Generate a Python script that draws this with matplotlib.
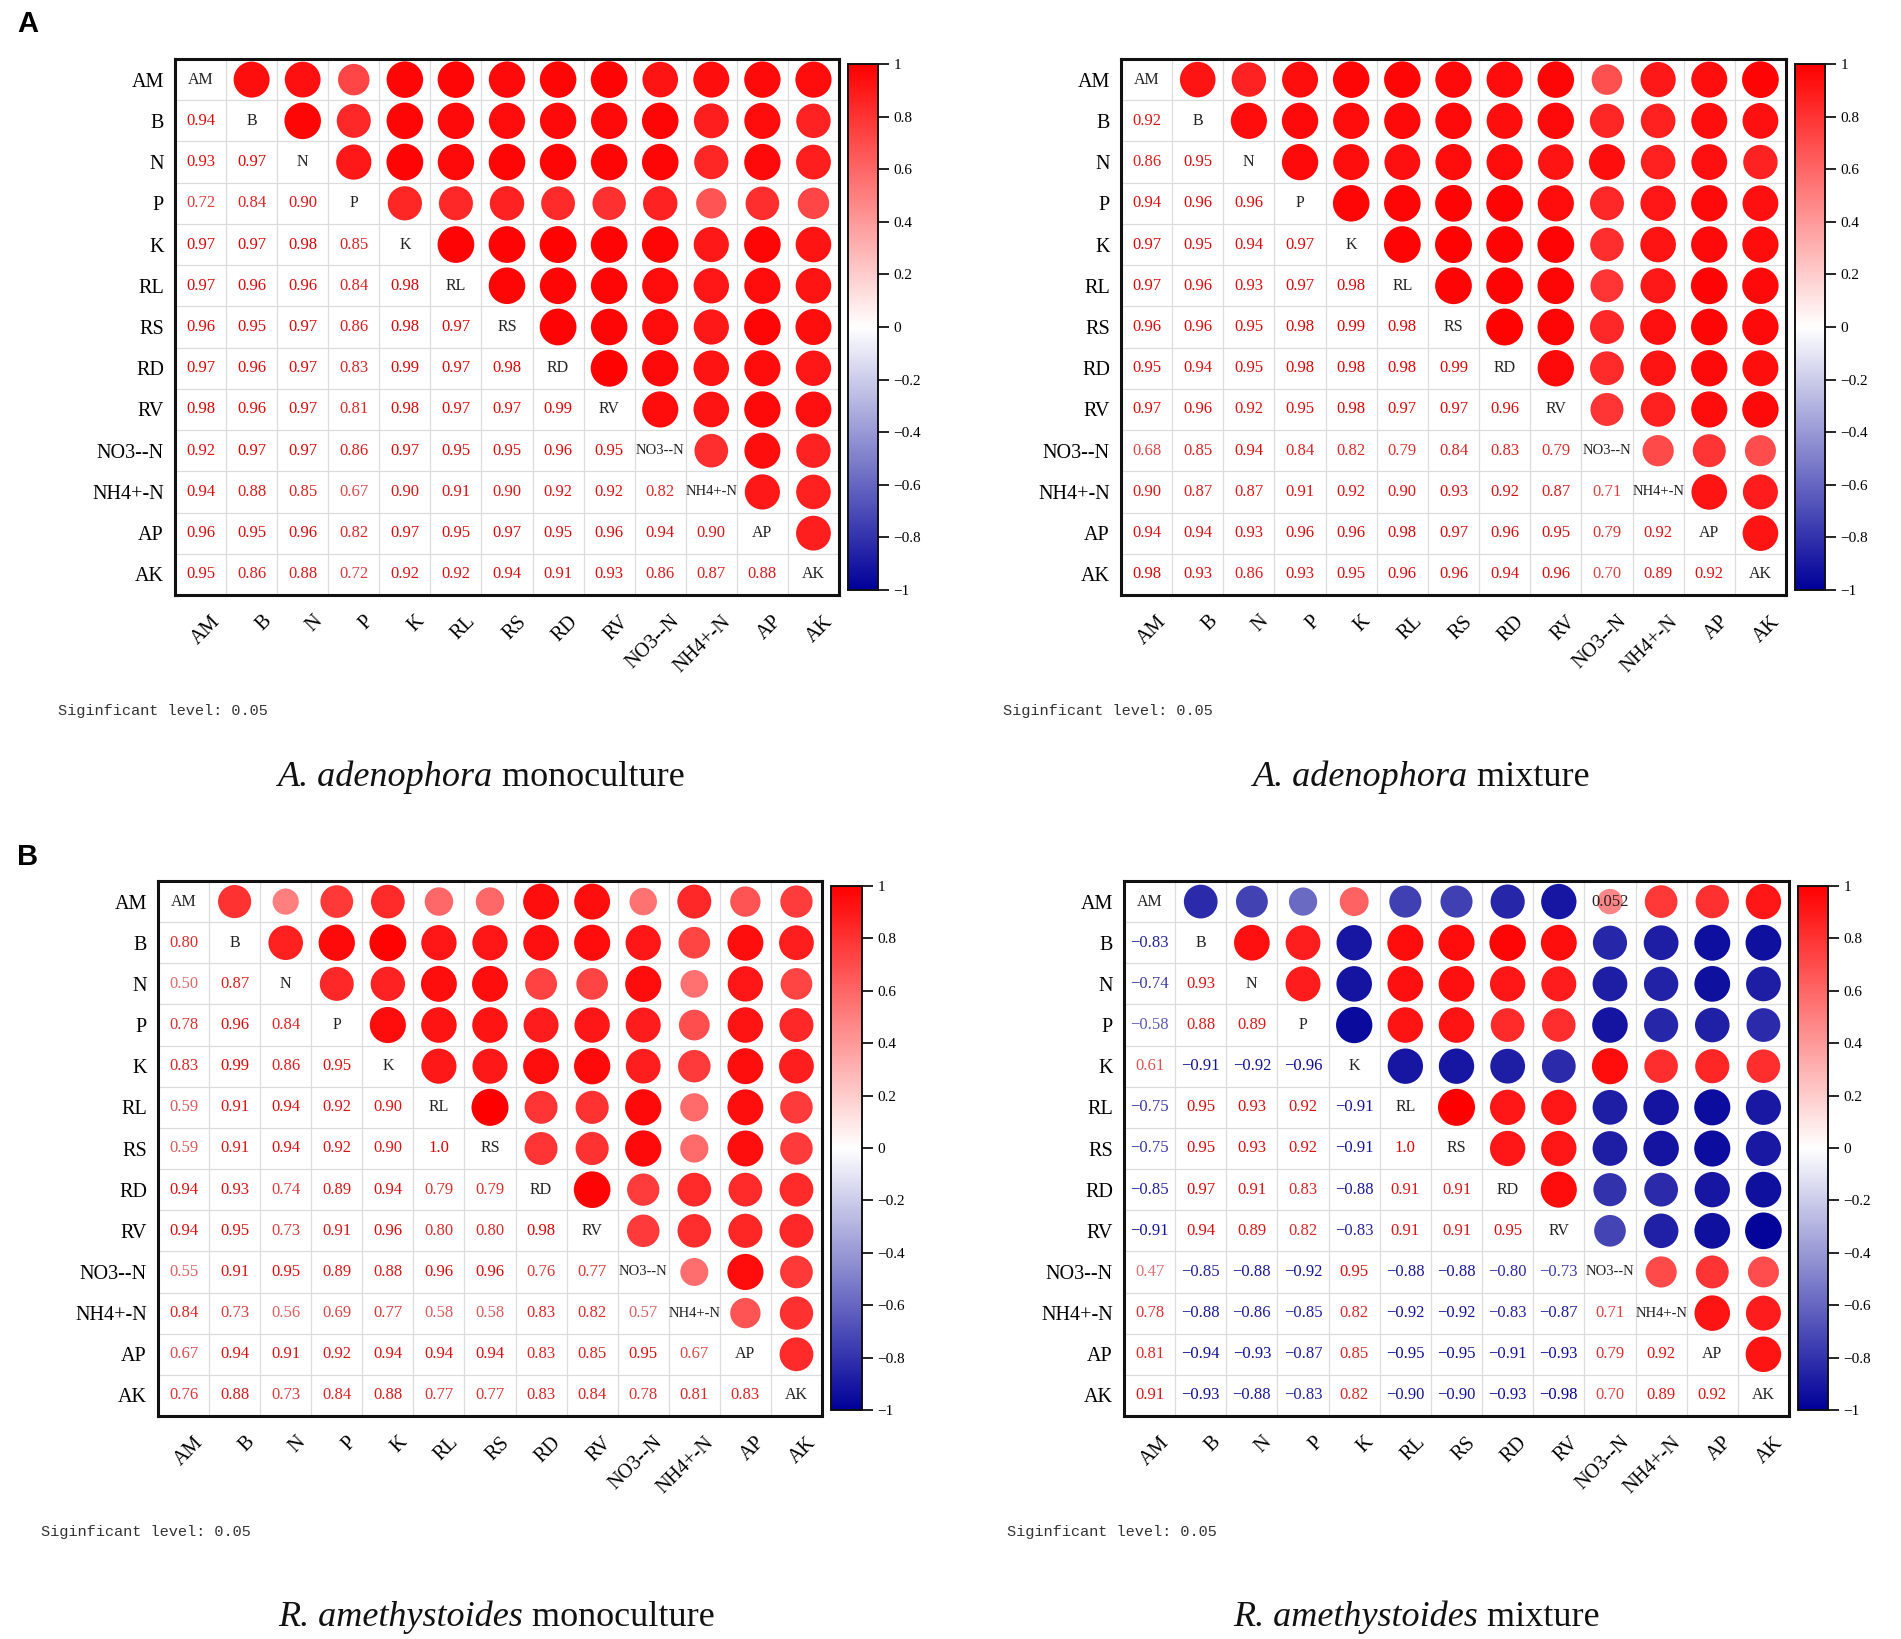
import numpy as np
import matplotlib
matplotlib.use("Agg")
import matplotlib.pyplot as plt
import matplotlib.transforms as mtrans
from matplotlib.colors import LinearSegmentedColormap, Normalize
from matplotlib.patches import Ellipse
from matplotlib.cm import ScalarMappable

# ---------------- data ----------------
variables = ["AM", "B", "N", "P", "K", "RL", "RS", "RD", "RV", "NO3--N", "NH4+-N", "AP", "AK"]

# lower triangle rows (row i holds correlations with columns 0..i-1)
aa_mono = [
    [0.94],
    [0.93, 0.97],
    [0.72, 0.84, 0.90],
    [0.97, 0.97, 0.98, 0.85],
    [0.97, 0.96, 0.96, 0.84, 0.98],
    [0.96, 0.95, 0.97, 0.86, 0.98, 0.97],
    [0.97, 0.96, 0.97, 0.83, 0.99, 0.97, 0.98],
    [0.98, 0.96, 0.97, 0.81, 0.98, 0.97, 0.97, 0.99],
    [0.92, 0.97, 0.97, 0.86, 0.97, 0.95, 0.95, 0.96, 0.95],
    [0.94, 0.88, 0.85, 0.67, 0.90, 0.91, 0.90, 0.92, 0.92, 0.82],
    [0.96, 0.95, 0.96, 0.82, 0.97, 0.95, 0.97, 0.95, 0.96, 0.94, 0.90],
    [0.95, 0.86, 0.88, 0.72, 0.92, 0.92, 0.94, 0.91, 0.93, 0.86, 0.87, 0.88],
]
aa_mix = [
    [0.92],
    [0.86, 0.95],
    [0.94, 0.96, 0.96],
    [0.97, 0.95, 0.94, 0.97],
    [0.97, 0.96, 0.93, 0.97, 0.98],
    [0.96, 0.96, 0.95, 0.98, 0.99, 0.98],
    [0.95, 0.94, 0.95, 0.98, 0.98, 0.98, 0.99],
    [0.97, 0.96, 0.92, 0.95, 0.98, 0.97, 0.97, 0.96],
    [0.68, 0.85, 0.94, 0.84, 0.82, 0.79, 0.84, 0.83, 0.79],
    [0.90, 0.87, 0.87, 0.91, 0.92, 0.90, 0.93, 0.92, 0.87, 0.71],
    [0.94, 0.94, 0.93, 0.96, 0.96, 0.98, 0.97, 0.96, 0.95, 0.79, 0.92],
    [0.98, 0.93, 0.86, 0.93, 0.95, 0.96, 0.96, 0.94, 0.96, 0.70, 0.89, 0.92],
]
ra_mono = [
    [0.80],
    [0.50, 0.87],
    [0.78, 0.96, 0.84],
    [0.83, 0.99, 0.86, 0.95],
    [0.59, 0.91, 0.94, 0.92, 0.90],
    [0.59, 0.91, 0.94, 0.92, 0.90, 1.0],
    [0.94, 0.93, 0.74, 0.89, 0.94, 0.79, 0.79],
    [0.94, 0.95, 0.73, 0.91, 0.96, 0.80, 0.80, 0.98],
    [0.55, 0.91, 0.95, 0.89, 0.88, 0.96, 0.96, 0.76, 0.77],
    [0.84, 0.73, 0.56, 0.69, 0.77, 0.58, 0.58, 0.83, 0.82, 0.57],
    [0.67, 0.94, 0.91, 0.92, 0.94, 0.94, 0.94, 0.83, 0.85, 0.95, 0.67],
    [0.76, 0.88, 0.73, 0.84, 0.88, 0.77, 0.77, 0.83, 0.84, 0.78, 0.81, 0.83],
]
ra_mix = [
    [-0.83],
    [-0.74, 0.93],
    [-0.58, 0.88, 0.89],
    [0.61, -0.91, -0.92, -0.96],
    [-0.75, 0.95, 0.93, 0.92, -0.91],
    [-0.75, 0.95, 0.93, 0.92, -0.91, 1.0],
    [-0.85, 0.97, 0.91, 0.83, -0.88, 0.91, 0.91],
    [-0.91, 0.94, 0.89, 0.82, -0.83, 0.91, 0.91, 0.95],
    [0.47, -0.85, -0.88, -0.92, 0.95, -0.88, -0.88, -0.80, -0.73],
    [0.78, -0.88, -0.86, -0.85, 0.82, -0.92, -0.92, -0.83, -0.87, 0.71],
    [0.81, -0.94, -0.93, -0.87, 0.85, -0.95, -0.95, -0.91, -0.93, 0.79, 0.92],
    [0.91, -0.93, -0.88, -0.83, 0.82, -0.90, -0.90, -0.93, -0.98, 0.70, 0.89, 0.92],
]
# non-significant p-value labels shown in upper-triangle cells: (row, col, text)
ra_mix_pvals = [(0, 9, "0.052")]

species = ["A. adenophora", "A. adenophora", "R. amethystoides", "R. amethystoides"]
treatments = ["monoculture", "mixture", "monoculture", "mixture"]
sig_text = "Siginficant level: 0.05"
cbar_ticks = [1, 0.8, 0.6, 0.4, 0.2, 0, -0.2, -0.4, -0.6, -0.8, -1]

# ---------------- styling ----------------
W, H = 1901, 1639
fig = plt.figure(figsize=(W / 100, H / 100), dpi=100)
fig.patch.set_facecolor("white")

cmap = LinearSegmentedColormap.from_list(
    "bwr_dark", [(0.0, (0.0, 0.0, 0.60)), (0.5, (1, 1, 1)), (1.0, (1.0, 0.0, 0.0))])
norm = Normalize(-1, 1)

SERIF = "Liberation Serif"
MONO = "Liberation Mono"


def px_rect(x0, y0, x1, y1):
    return [x0 / W, 1 - y1 / H, (x1 - x0) / W, (y1 - y0) / H]


def full_matrix(lower):
    n = len(variables)
    m = np.eye(n)
    for i, row in enumerate(lower, start=1):
        for j, v in enumerate(row):
            m[i, j] = v
            m[j, i] = v
    return m


def fmt(v):
    if abs(v) == 1.0:
        s = "1.0"
    else:
        s = f"{abs(v):.2f}"
    return ("\u2212" + s) if v < 0 else s


def text_color(v):
    r, g, b, _ = cmap(norm(v))
    k = 0.86
    return (r * k, g * k, b * k + 0.05 * (v < 0))


def draw_panel(lower, box, cbox, pvals=()):
    n = len(variables)
    m = full_matrix(lower)
    x0, y0, x1, y1 = box
    cw = (x1 - x0) / n
    ch = (y1 - y0) / n
    ax = fig.add_axes(px_rect(*box))
    ax.set_xlim(0, n)
    ax.set_ylim(n, 0)
    ax.set_facecolor("white")
    for k in range(1, n):
        ax.axhline(k, color="#dcdcdc", lw=0.9, zorder=1)
        ax.axvline(k, color="#dcdcdc", lw=0.9, zorder=1)
    dmax = 0.9 * ch
    for i in range(n):
        for j in range(n):
            v = m[i, j]
            if i == j:
                ax.text(j + 0.5, i + 0.5, variables[i], ha="center", va="center",
                        fontsize=11.5 if len(variables[i]) < 4 else 10.5,
                        family=SERIF, color="#222222", zorder=3)
            elif i > j:
                ax.text(j + 0.5, i + 0.5, fmt(v), ha="center", va="center",
                        fontsize=12, family=SERIF, color=text_color(v), zorder=3)
            else:
                d = dmax * np.sqrt(abs(v))
                e = Ellipse((j + 0.5, i + 0.5), d / cw, d / ch,
                            facecolor=cmap(norm(v)), edgecolor="none", zorder=2)
                ax.add_patch(e)
    for (i, j, txt) in pvals:
        ax.text(j + 0.5, i + 0.5, txt, ha="center", va="center", fontsize=12,
                family=SERIF, color="#222222", zorder=4)
    ax.set_xticks(np.arange(n) + 0.5)
    ax.set_yticks(np.arange(n) + 0.5)
    ax.set_yticklabels(variables, family=SERIF, fontsize=14.5)
    ax.set_xticklabels(variables, family=SERIF, fontsize=14.5, rotation=45,
                       ha="right", va="top", rotation_mode="anchor")
    ax.tick_params(length=0, pad=8)
    offset = mtrans.ScaledTranslation(10 / 100, -6 / 100, fig.dpi_scale_trans)
    for lab in ax.get_xticklabels():
        lab.set_transform(lab.get_transform() + offset)
    for s in ax.spines.values():
        s.set_linewidth(2.2)
        s.set_color("#111111")
        s.set_zorder(5)

    cax = fig.add_axes(px_rect(*cbox))
    cb = fig.colorbar(ScalarMappable(norm=norm, cmap=cmap), cax=cax)
    cb.set_ticks(cbar_ticks)
    cb.set_ticklabels([("\u2212" + f"{abs(t):g}") if t < 0 else f"{t:g}" for t in cbar_ticks])
    cb.outline.set_linewidth(1.4)
    cb.outline.set_edgecolor("#111111")
    cax.tick_params(direction="out", length=8, width=1.2, labelsize=11, pad=3)
    for lab in cax.get_yticklabels():
        lab.set_family(SERIF)
    return ax


boxes = [(175, 59, 839, 595), (1121, 59, 1786, 595),
         (158, 881, 822, 1416), (1124, 881, 1789, 1416)]
cboxes = [(848, 64, 878, 590), (1795, 64, 1825, 590),
          (831, 886, 862, 1410), (1798, 886, 1828, 1410)]
sig_pos = [(58, 711), (1003, 711), (41, 1532), (1007, 1532)]
cap_pos = [(481, 777), (1421, 777), (496, 1617), (1416, 1617)]
panels = [aa_mono, aa_mix, ra_mono, ra_mix]
pv = [(), (), (), ra_mix_pvals]

for k in range(4):
    draw_panel(panels[k], boxes[k], cboxes[k], pv[k])
    sx, sy = sig_pos[k]
    fig.text(sx / W, 1 - sy / H, sig_text, family=MONO, fontsize=11,
             color="#333333", ha="left", va="center")

# panel letters
fig.text(17 / W, 1 - 24 / H, "A", family="Liberation Sans", weight="bold",
         fontsize=21, ha="left", va="center")
fig.text(17 / W, 1 - 857 / H, "B", family="Liberation Sans", weight="bold",
         fontsize=21, ha="left", va="center")

# captions (italic species + regular treatment), centred
renderer = fig.canvas.get_renderer()
for k in range(4):
    cx, cy = cap_pos[k]
    t1 = fig.text(0, 1 - cy / H, species[k], family=SERIF, style="italic",
                  fontsize=26, ha="left", va="center", color="#111111")
    t2 = fig.text(0, 1 - cy / H, " " + treatments[k], family=SERIF,
                  fontsize=26, ha="left", va="center", color="#111111")
    w1 = t1.get_window_extent(renderer).width
    w2 = t2.get_window_extent(renderer).width
    left = cx - (w1 + w2) / 2
    t1.set_x(left / W)
    t2.set_x((left + w1) / W)

fig.savefig("out.png", dpi=100, facecolor="white")
